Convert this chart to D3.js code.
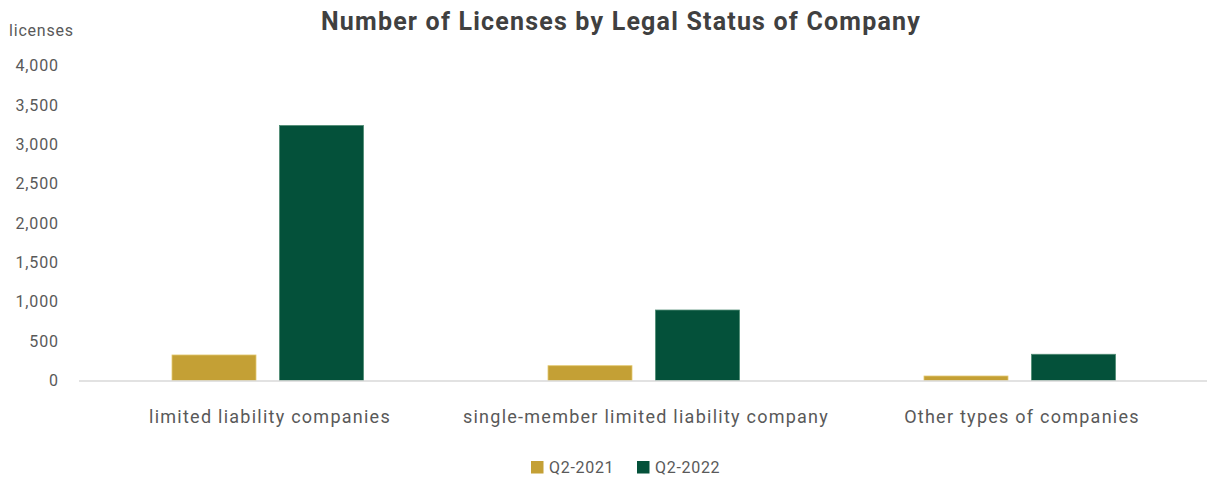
<!DOCTYPE html>
<html>
<head>
<meta charset="utf-8">
<script src="https://cdn.jsdelivr.net/npm/d3@7"></script>
<style>
  html, body { margin: 0; padding: 0; background: #ffffff; }
  svg { display: block; }
  text { font-family: Roboto, "DejaVu Sans", sans-serif; }
</style>
</head>
<body>
<svg id="chart" width="1208" height="480"></svg>
<script>
// Categories, series and axis ticks
const categories = ["limited liability companies", "single-member limited liability company", "Other types of companies"];
const seriesNames = ["Q2-2021", "Q2-2022"];
const q2_2021 = [324, 188, 57];
const q2_2022 = [3238, 895, 333];
const yTicks = [0, 500, 1000, 1500, 2000, 2500, 3000, 3500, 4000];
const colors = ["#C4A035", "#04513A"];

const seriesValues = [q2_2021, q2_2022];
const rows = categories.map((c, i) => ({
  category: c,
  values: seriesNames.map((s, j) => ({ series: s, value: seriesValues[j][i] }))
}));

const svg = d3.select("#chart");
const margin = { left: 79, right: 1, top: 65.5, bottom: 99.5 };
const W = 1208, H = 480;
const fontStack = "Roboto, 'DejaVu Sans', sans-serif";

const x0 = d3.scaleBand().domain(categories).range([margin.left, W - margin.right]).paddingInner(0).paddingOuter(0);
const x1 = d3.scaleBand().domain(seriesNames).range([93, 93 + 191.5]).paddingInner(23.5 / 107.5).paddingOuter(0);
const y = d3.scaleLinear().domain([0, 4000]).range([H - margin.bottom, margin.top]);

// Title
svg.append("text")
  .attr("x", 621).attr("y", 29.5)
  .attr("text-anchor", "middle")
  .attr("font-size", 25).attr("font-weight", 700)
  .attr("letter-spacing", 1.2)
  .attr("fill", "#404040")
  .text("Number of Licenses by Legal Status of Company");

// Axis unit label
svg.append("text")
  .attr("x", 9).attr("y", 36)
  .attr("font-size", 16).attr("letter-spacing", 0.8).attr("fill", "#595959")
  .text("licenses");

// Y axis tick labels
const yAxis = d3.axisLeft(y).tickValues(yTicks).tickSize(0).tickPadding(0).tickFormat(d3.format(","));
const gy = svg.append("g").attr("transform", "translate(59,0)").call(yAxis);
gy.select(".domain").remove();
gy.selectAll("text").attr("font-size", 16).attr("letter-spacing", 0.9)
  .attr("fill", "#595959").attr("font-family", fontStack);

// Bars
const groups = svg.append("g").selectAll("g")
  .data(rows).join("g")
  .attr("transform", d => `translate(${x0(d.category)},0)`);

groups.selectAll("rect")
  .data(d => d.values).join("rect")
  .attr("x", d => x1(d.series))
  .attr("width", x1.bandwidth())
  .attr("y", d => y(d.value))
  .attr("height", d => y(0) - y(d.value))
  .attr("fill", (d, i) => colors[i])
  .attr("stroke", (d, i) => i === 0 ? "#E3C870" : "#4E8A72")
  .attr("stroke-width", 0.8);

// Baseline
svg.append("line")
  .attr("x1", margin.left).attr("x2", W - margin.right)
  .attr("y1", y(0) + 0.5).attr("y2", y(0) + 0.5)
  .attr("stroke", "#D9D9D9").attr("stroke-width", 1.5);

// Category labels
const xAxis = d3.axisBottom(x0).tickSize(0).tickPadding(0);
const gx = svg.append("g").attr("transform", `translate(0,${423})`).call(xAxis);
gx.select(".domain").remove();
gx.selectAll("text").attr("font-size", 18).attr("letter-spacing", 1.25)
  .attr("fill", "#595959").attr("font-family", fontStack)
  .attr("y", 0).attr("dy", 0);
gx.selectAll(".tick").attr("transform", d => `translate(${x0(d) + 93 + 95 + 3},0)`);

// Legend
const legend = svg.append("g").attr("transform", "translate(531,461)");
const legendX = [0, 106];
seriesNames.forEach((s, i) => {
  const g = legend.append("g").attr("transform", `translate(${legendX[i]},0)`);
  g.append("rect").attr("width", 12.5).attr("height", 12.5).attr("fill", colors[i]);
  g.append("text").attr("x", 18).attr("y", 12.3).attr("font-size", 16)
    .attr("letter-spacing", 0.7).attr("fill", "#595959").text(s);
});
</script>
</body>
</html>
